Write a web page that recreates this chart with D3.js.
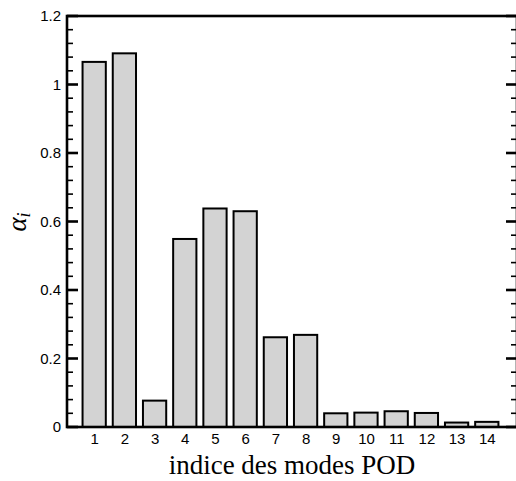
<!DOCTYPE html>
<html lang="fr">
<head>
    <meta charset="UTF-8">
    <title>alpha_i par mode POD</title>
    <script src="https://d3js.org/d3.v7.min.js"></script>
    <style>
        body{ margin:0; background:white; }
        svg{ display:block; }
        .ticklab{ font-family:"Liberation Sans", Arial, sans-serif; font-size:15px; fill:black; }
    </style>
</head>
<body>
    <script>
        // data
        const modes = [1,2,3,4,5,6,7,8,9,10,11,12,13,14];
        const alpha = [1.066,1.091,0.077,0.549,0.638,0.630,0.262,0.269,0.040,0.042,0.046,0.041,0.013,0.015];
        const yTicks = [0,0.2,0.4,0.6,0.8,1,1.2];
        const yTickLabels = ["0","0.2","0.4","0.6","0.8","1","1.2"];

        const w = 516, h = 481;
        const margin = {left:67, right:-1, top:16, bottom:54};

        const svg = d3.select("body").append("svg").attr("width",w).attr("height",h);

        const xScale = d3.scaleLinear().domain([0.1,15]).range([margin.left, w-margin.right]);
        const yScale = d3.scaleLinear().domain([0,1.2]).range([h-margin.bottom, margin.top]);

        const barw = 0.77;
        const x0 = margin.left, x1 = w - margin.right;

        svg.selectAll("rect.bar")
            .data(modes)
            .enter()
            .append("rect")
            .attr("class","bar")
            .attr("x",function(d){ return xScale(d - barw/2); })
            .attr("y",function(d,i){ return yScale(alpha[i]); })
            .attr("width",xScale(barw) - xScale(0))
            .attr("height",function(d,i){ return yScale(0) - yScale(alpha[i]); })
            .attr("fill","#d3d3d3")
            .attr("stroke","black")
            .attr("stroke-width",2);

        // inward ticks on both sides
        const minor = d3.range(0,1.2001,0.04).filter(v => yTicks.every(t => Math.abs(t-v) > 1e-6));
        const tickg = svg.append("g").attr("stroke","black");
        function ticks(vals, len, sw){
            tickg.selectAll(null).data(vals).enter().append("line")
                .attr("x1",x0).attr("x2",x0+len)
                .attr("y1",d => yScale(d)).attr("y2",d => yScale(d))
                .attr("stroke-width",sw);
            tickg.selectAll(null).data(vals).enter().append("line")
                .attr("x1",x1).attr("x2",x1-len)
                .attr("y1",d => yScale(d)).attr("y2",d => yScale(d))
                .attr("stroke-width",sw);
        }
        ticks(minor, 6, 1.6);
        ticks(yTicks, 11, 2.6);

        // y labels
        const yaxisL = d3.axisLeft(yScale).tickValues(yTicks).tickSize(0).tickPadding(6)
            .tickFormat(function(d,i){ return yTickLabels[i]; });
        const gl = svg.append("g").attr("transform","translate("+x0+",0)").call(yaxisL);
        gl.select(".domain").remove();
        gl.selectAll("text").attr("class","ticklab").attr("font-size",null).attr("font-family",null);

        // x labels, no tick marks
        const xaxis = d3.axisBottom(xScale).tickValues(modes).tickSize(0).tickPadding(6).tickFormat(d3.format("d"));
        const gx = svg.append("g").attr("transform","translate(0,"+yScale(0)+")").call(xaxis);
        gx.select(".domain").remove();
        gx.selectAll("text").attr("class","ticklab").attr("font-size",null).attr("font-family",null);

        // frame
        svg.append("rect")
            .attr("x",x0).attr("y",margin.top)
            .attr("width",x1-x0)
            .attr("height",yScale(0)-margin.top)
            .attr("fill","none").attr("stroke","black").attr("stroke-width",2.6);

        // axis titles
        svg.append("text")
            .attr("x",(x0 + x1)/2)
            .attr("y",474)
            .attr("text-anchor","middle")
            .attr("font-family","'Liberation Serif','DejaVu Serif',serif")
            .attr("font-size",27)
            .text("indice des modes POD");

        const yt = svg.append("text")
            .attr("transform","translate(26,222) rotate(-90)")
            .attr("text-anchor","middle")
            .attr("font-family","'Liberation Serif','DejaVu Serif',serif")
            .attr("font-style","italic")
            .attr("font-size",27);
        yt.append("tspan").text("α");
        yt.append("tspan").attr("font-size",18).attr("dy",4).text("i");
    </script>
</body>
</html>
